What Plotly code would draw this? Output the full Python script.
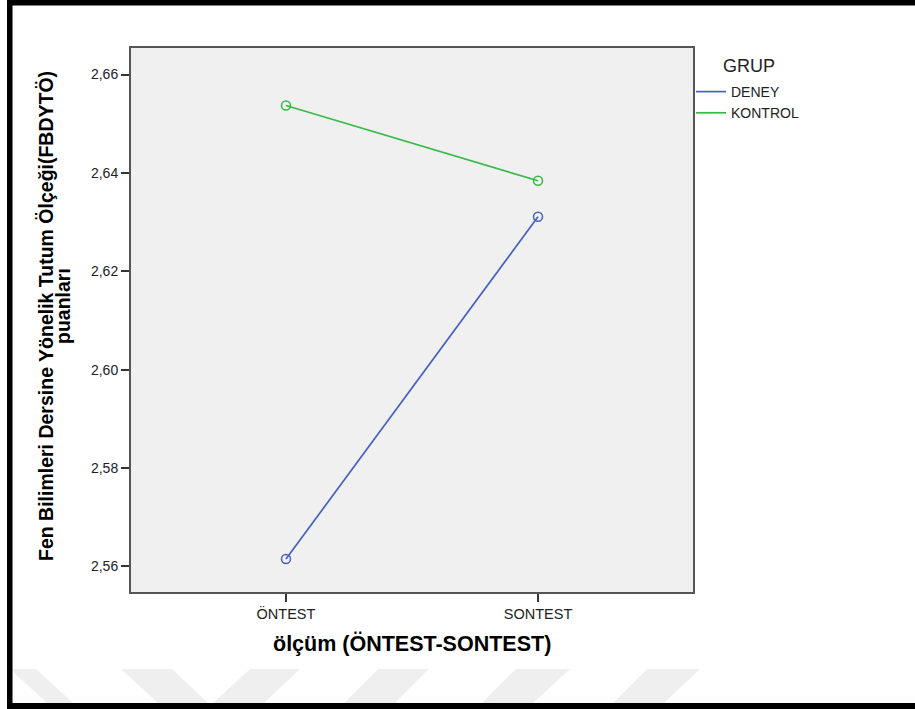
import plotly.graph_objects as go

# ---- data ----
measures = ["ÖNTEST", "SONTEST"]
groups = ["DENEY", "KONTROL"]
deney_values = [2.5615, 2.6311]
kontrol_values = [2.6537, 2.6384]
y_ticks = [2.56, 2.58, 2.60, 2.62, 2.64, 2.66]
y_tick_labels = ["2,56", "2,58", "2,60", "2,62", "2,64", "2,66"]

colors = {"DENEY": "#4560BF", "KONTROL": "#36BA46"}
series = {"DENEY": deney_values, "KONTROL": kontrol_values}

# ---- geometry helpers (pixel -> paper) ----
W, H = 915, 709
L, R, T, B = 131, 693, 48, 592
PW, PH = R - L, B - T


def px(x):
    return (x - L) / PW


def py(y):
    return (B - y) / PH


FONT = "Arial, Liberation Sans, sans-serif"

fig = go.Figure()
xpos = list(range(len(measures)))
for g in groups:
    # line (shown in legend as a plain line)
    fig.add_trace(go.Scatter(
        x=xpos, y=series[g], name=g, mode="lines", legendgroup=g,
        line=dict(color=colors[g], width=1.7),
    ))
    # open circle markers at the means
    fig.add_trace(go.Scatter(
        x=xpos, y=series[g], name=g, mode="markers", legendgroup=g,
        showlegend=False,
        marker=dict(symbol="circle-open", size=9, color=colors[g],
                    line=dict(width=1.5, color=colors[g])),
    ))

shapes = []
# watermark stripes (faint)
stripes = [
    [(10, 669), (36, 669), (73, 703), (47, 703)],
    [(121, 669), (172, 669), (208, 703), (158, 703)],
    [(250, 669), (300, 669), (264, 703), (213, 703)],
    [(378, 669), (429, 669), (395, 703), (344, 703)],
    [(516, 669), (570, 669), (533, 703), (482, 703)],
    [(647, 669), (700, 669), (664, 703), (613, 703)],
]
for poly in stripes:
    path = "M " + " L ".join(f"{px(a):.5f},{py(b):.5f}" for a, b in poly) + " Z"
    shapes.append(dict(type="path", xref="paper", yref="paper", path=path,
                       fillcolor="#efefef", line=dict(width=0), layer="below"))
# black frame (top, left, bottom)
for (x0, y0, x1, y1) in [(7, 0, 915, 5.5), (7, 0, 12.5, 709), (7, 703, 915, 709)]:
    shapes.append(dict(type="rect", xref="paper", yref="paper",
                       x0=px(x0), x1=px(x1), y0=py(y1), y1=py(y0),
                       fillcolor="black", line=dict(width=0), layer="above"))

annotations = [
    dict(text="<b>Fen Bilimleri Dersine Yönelik Tutum Ölçeği(FBDYTÖ)</b>",
         textangle=-90, xref="paper", yref="paper", x=px(46), y=py(316),
         xanchor="center", yanchor="middle", showarrow=False,
         font=dict(family=FONT, size=19.5, color="black")),
    dict(text="<b>puanları</b>",
         textangle=-90, xref="paper", yref="paper", x=px(63), y=py(306),
         xanchor="center", yanchor="middle", showarrow=False,
         font=dict(family=FONT, size=19.5, color="black")),
    dict(text="<b>ölçüm (ÖNTEST-SONTEST)</b>",
         xref="paper", yref="paper", x=0.5, y=py(643),
         xanchor="center", yanchor="middle", showarrow=False,
         font=dict(family=FONT, size=21.5, color="black")),
    dict(text="GRUP", xref="paper", yref="paper", x=px(721), y=py(66),
         xanchor="left", yanchor="middle", showarrow=False,
         font=dict(family=FONT, size=18, color="#222222")),
]

fig.update_layout(
    width=W, height=H,
    margin=dict(l=L, r=W - R, t=T, b=H - B, autoexpand=False),
    paper_bgcolor="white", plot_bgcolor="#F0F0F0",
    showlegend=True,
    legend=dict(x=px(691), y=py(76), xanchor="left", yanchor="top",
                bgcolor="rgba(0,0,0,0)", tracegroupgap=0,
                font=dict(family=FONT, size=14, color="#222222")),
    xaxis=dict(range=[-0.615, 1.615], tickmode="array", tickvals=xpos,
               ticktext=measures, ticks="outside", ticklen=8, tickwidth=1.5,
               tickcolor="#333333", showgrid=False, zeroline=False,
               showline=True, linecolor="#555555", linewidth=2, mirror=True,
               tickfont=dict(family=FONT, size=14.5, color="#222222")),
    yaxis=dict(range=[2.5548, 2.6654], tickmode="array", tickvals=y_ticks,
               ticktext=y_tick_labels, ticks="outside", ticklen=8, tickwidth=1.5,
               tickcolor="#333333", showgrid=False, zeroline=False,
               showline=True, linecolor="#555555", linewidth=2, mirror=True,
               tickfont=dict(family=FONT, size=14, color="#222222")),
    shapes=shapes, annotations=annotations,
)

fig.write_html("out.html",
               config={"displayModeBar": False},
               post_script="document.body.style.margin='0';"
                           "document.body.style.overflow='hidden';")
